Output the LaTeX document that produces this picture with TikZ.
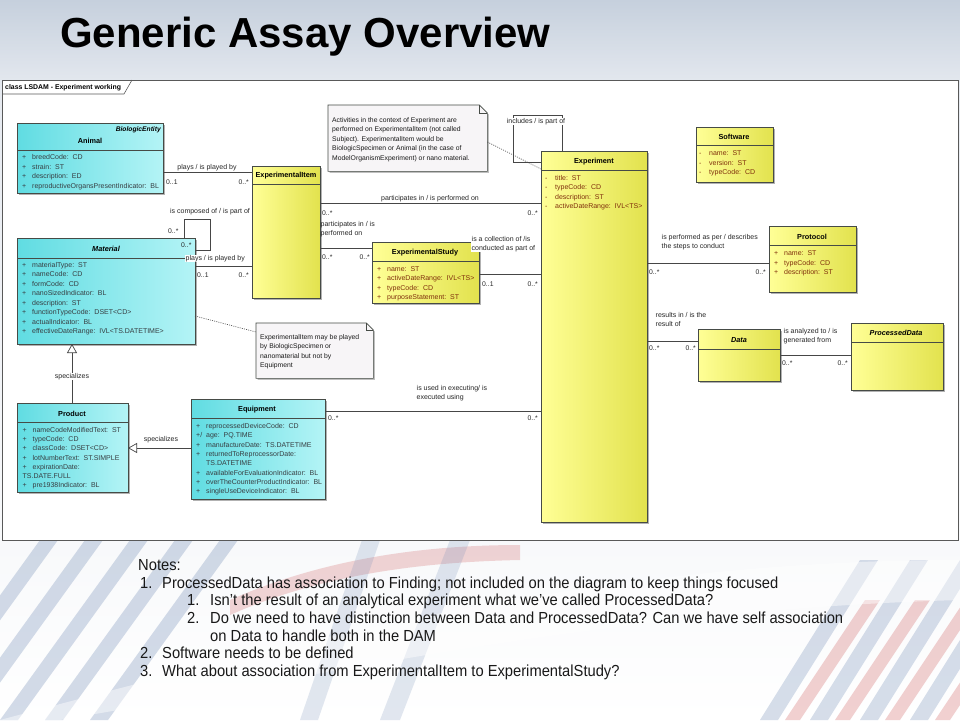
\documentclass[tikz,border=0pt]{standalone}
\usepackage{fontspec}
\setmainfont{Liberation Sans}
\newfontfamily\notefont[FakeStretch=0.92]{Liberation Sans}
\usetikzlibrary{arrows.meta,shadows,calc}
\definecolor{cyanL}{RGB}{96,220,226}
\definecolor{cyanR}{RGB}{180,244,246}
\definecolor{yelL}{RGB}{255,255,150}
\definecolor{yelR}{RGB}{226,226,78}
\definecolor{bord}{RGB}{70,75,70}
\definecolor{attrY}{RGB}{128,48,12}
\definecolor{attrC}{RGB}{55,62,66}
\definecolor{linec}{RGB}{70,70,70}
\definecolor{notefill}{RGB}{247,245,247}
\definecolor{bgtop}{RGB}{198,208,221}
\definecolor{bgmid}{RGB}{230,234,240}
\definecolor{stripeB}{RGB}{120,145,185}
\definecolor{stripeR}{RGB}{200,70,70}
\tikzset{
 cls/.style={draw=bord, line width=0.7pt, inner sep=0pt, outer sep=0pt, anchor=north west,
   drop shadow={shadow xshift=1.5pt, shadow yshift=-1.5pt, fill=black, opacity=0.3}},
 cbox/.style={cls, left color=cyanL, right color=cyanR},
 ybox/.style={cls, left color=yelL, right color=yelR},
 sepl/.style={draw=bord, line width=0.6pt},
 hdr/.style={font=\fontsize{7.3}{8}\selectfont\bfseries, inner sep=0pt, text=black},
 hdri/.style={hdr, font=\fontsize{7.3}{8}\selectfont\bfseries\itshape},
 attrc/.style={font=\fontsize{7.0}{8}\selectfont, text=attrC, inner sep=0pt, anchor=base west},
 attry/.style={attrc, text=attrY},
 assoc/.style={draw=linec, line width=0.7pt},
 lbl/.style={font=\fontsize{7.0}{9.3}\selectfont, inner sep=0.5pt, text=black!85, align=left},
 mult/.style={font=\fontsize{6.8}{8}\selectfont, inner sep=0pt, text=black!85},
 dotl/.style={draw=linec, line width=0.6pt, dash pattern=on 1pt off 1.2pt},
 gen/.style={assoc, -{Triangle[open, length=9pt, width=10pt]}},
 notetxt/.style={font=\fontsize{6.8}{9.4}\selectfont, inner sep=0pt, anchor=base west, text=black!90},
 ntxt/.style={font=\notefont\fontsize{16}{18}\selectfont, inner sep=0pt, anchor=base west, text=black!90},
}
\begin{document}
\begin{tikzpicture}[x=1pt,y=-1pt]
\useasboundingbox (0,0) rectangle (960,720);
% background
\shade[top color=bgtop, bottom color=bgmid] (0,0) rectangle (960,90);
\shade[top color=bgmid, bottom color=white] (0,90) rectangle (960,720);
\foreach \x in {-90,-45,0,45,90} {
  \fill[stripeB, opacity=0.32] (\x,720) -- (\x+18,720) -- (\x+148,540) -- (\x+130,540) -- cycle;
}
\foreach \x in {760,810,860,910} {
  \fill[stripeB, opacity=0.3] (\x,720) -- (\x+18,720) -- (\x+118,560) -- (\x+100,560) -- cycle;
  \fill[stripeR, opacity=0.25] (\x+25,720) -- (\x+40,720) -- (\x+120,600) -- (\x+105,600) -- cycle;
}
\fill[stripeR, opacity=0.22] (230,600) .. controls (320,560) and (420,545) .. (520,545) -- (520,560) .. controls (420,562) and (320,575) .. (230,615) -- cycle;
\fill[stripeB, opacity=0.22] (380,720) -- (400,720) -- (470,540) -- (450,540) -- cycle;
\fill[stripeB, opacity=0.22] (300,720) -- (318,720) -- (380,540) -- (362,540) -- cycle;
\fill[white, opacity=0.45] (0,720) .. controls (300,640) and (600,560) .. (960,560) -- (960,600) .. controls (600,610) and (300,680) .. (60,720) -- cycle;

% title
\node[font=\fontsize{42}{50}\selectfont\bfseries, anchor=base west, inner sep=0pt] (title) at (60,47) {Generic Assay Overview};

% frame
\node[draw=black!65, line width=0.9pt, fill=white, minimum width=956pt, minimum height=460pt, anchor=north west, inner sep=0pt] (frame) at (2,80) {};
\draw[draw=black!65, line width=0.6pt] (frame.west |- 0,94) -- (124,94) -- (132,80);
\node[font=\fontsize{6.9}{7}\selectfont\bfseries, anchor=west, inner sep=0pt] (tablbl) at (5,87.5) {class LSDAM - Experiment working};

% ---------- notes (folded) ----------
\node[minimum width=159pt, minimum height=66pt, anchor=north west, inner sep=0pt] (n1) at (328,105) {};
\fill[black, opacity=0.25] ([shift={(1.5pt,-1.5pt)}]n1.north west) -- ([shift={(-6.5pt,-1.5pt)}]n1.north east) -- ([shift={(1.5pt,-9.5pt)}]n1.north east) -- ([shift={(1.5pt,-1.5pt)}]n1.south east) -- ([shift={(1.5pt,-1.5pt)}]n1.south west) -- cycle;
\filldraw[fill=notefill, draw=bord, line width=0.6pt] (n1.north west) -- ([xshift=-8pt]n1.north east) -- ([yshift=-8pt]n1.north east) -- (n1.south east) -- (n1.south west) -- cycle;
\draw[draw=bord, line width=0.6pt] ([xshift=-8pt]n1.north east) -- ([shift={(-8pt,-8pt)}]n1.north east) -- ([yshift=-8pt]n1.north east);
\foreach [count=\i] \t in {Activities in the context of Experiment are, performed on ExperimentalItem (not called, {Subject).  ExperimentalItem would be}, BiologicSpecimen or Animal (in the case of, ModelOrganismExperiment) or nano material.}
  \node[notetxt] (n1t\i) at (332, {122.4+9.4*(\i-1)}) {\t};

\node[minimum width=117pt, minimum height=55pt, anchor=north west, inner sep=0pt] (n2) at (256,323) {};
\fill[black, opacity=0.25] ([shift={(1.5pt,-1.5pt)}]n2.north west) -- ([shift={(-5.5pt,-1.5pt)}]n2.north east) -- ([shift={(1.5pt,-8.5pt)}]n2.north east) -- ([shift={(1.5pt,-1.5pt)}]n2.south east) -- ([shift={(1.5pt,-1.5pt)}]n2.south west) -- cycle;
\filldraw[fill=notefill, draw=bord, line width=0.6pt] (n2.north west) -- ([xshift=-7pt]n2.north east) -- ([yshift=-7pt]n2.north east) -- (n2.south east) -- (n2.south west) -- cycle;
\draw[draw=bord, line width=0.6pt] ([xshift=-7pt]n2.north east) -- ([shift={(-7pt,-7pt)}]n2.north east) -- ([yshift=-7pt]n2.north east);
\foreach [count=\i] \t in {ExperimentalItem may be played, by BiologicSpecimen or, nanomaterial but not by, Equipment}
  \node[notetxt] (n2t\i) at (260, {339.4+9.5*(\i-1)}) {\t};

% ---------- classes ----------
% Animal
\node[cbox, minimum width=146pt, minimum height=70pt] (animal) at (17,123) {};
\draw[sepl] (animal.west |- 0,150) -- (animal.east |- 0,150);
\node[hdri, font=\fontsize{6.7}{8}\selectfont\bfseries\itshape, anchor=east] (animalst) at (161,130) {BiologicEntity};
\node[hdr] (animalh) at (90,141) {Animal};
\foreach [count=\i] \m/\t in {+/breedCode:~~CD, +/strain:~~ST, +/description:~~ED, +/reproductiveOrgansPresentIndicator:~~BL}
  \node[attrc] (animala\i) at (22, {159.5+9.5*(\i-1)}) {\makebox[10pt][l]{\m}\t};

% Material
\node[cbox, minimum width=178pt, minimum height=106pt] (material) at (17,238) {};
\draw[sepl] (material.west |- 0,258) -- (material.east |- 0,258);
\node[hdri] (materialh) at (106,249) {Material};
\foreach [count=\i] \m/\t in {+/materialType:~~ST, +/nameCode:~~CD, +/formCode:~~CD, +/nanoSizedIndicator:~~BL, +/description:~~ST, +/functionTypeCode:~~DSET<CD>, +/actualIndicator:~~BL, +/effectiveDateRange:~~IVL<TS.DATETIME>}
  \node[attrc] (materiala\i) at (22, {267.5+9.43*(\i-1)}) {\makebox[10pt][l]{\m}\t};

% ExperimentalItem
\node[ybox, minimum width=68pt, minimum height=132pt] (item) at (252,166) {};
\draw[sepl] (item.west |- 0,184) -- (item.east |- 0,184);
\node[hdr] (itemh) at (286,176) {ExperimentalItem};

% ExperimentalStudy
\node[ybox, minimum width=107pt, minimum height=61pt] (study) at (372,242) {};
\draw[sepl] (study.west |- 0,261) -- (study.east |- 0,261);
\node[hdr] (studyh) at (425,253) {ExperimentalStudy};
\foreach [count=\i] \m/\t in {+/name:~~ST, +/activeDateRange:~~IVL<TS>, +/typeCode:~~CD, +/purposeStatement:~~ST}
  \node[attry] (studya\i) at (377, {271.5+9.35*(\i-1)}) {\makebox[10pt][l]{\m}\t};

% Experiment
\node[ybox, minimum width=106pt, minimum height=371pt] (exp) at (541,151) {};
\draw[sepl] (exp.west |- 0,170) -- (exp.east |- 0,170);
\node[hdr] (exph) at (594,162) {Experiment};
\foreach [count=\i] \m/\t in {-/title:~~ST, -/typeCode:~~CD, -/description:~~ST, -/activeDateRange:~~IVL<TS>}
  \node[attry] (expa\i) at (545, {180.5+9.35*(\i-1)}) {\makebox[10pt][l]{\m}\t};

% Software
\node[ybox, minimum width=77pt, minimum height=55pt] (software) at (696,127) {};
\draw[sepl] (software.west |- 0,145) -- (software.east |- 0,145);
\node[hdr] (softwareh) at (734,137) {Software};
\foreach [count=\i] \m/\t in {-/name:~~ST, -/version:~~ST, -/typeCode:~~CD}
  \node[attry] (softwarea\i) at (699, {155.5+9.5*(\i-1)}) {\makebox[10pt][l]{\m}\t};

% Protocol
\node[ybox, minimum width=87pt, minimum height=66pt] (protocol) at (769,226) {};
\draw[sepl] (protocol.west |- 0,245) -- (protocol.east |- 0,245);
\node[hdr] (protocolh) at (812,237) {Protocol};
\foreach [count=\i] \m/\t in {+/name:~~ST, +/typeCode:~~CD, +/description:~~ST}
  \node[attry] (protocola\i) at (774, {255.5+9.5*(\i-1)}) {\makebox[10pt][l]{\m}\t};

% Data
\node[ybox, minimum width=82pt, minimum height=52pt] (data) at (698,329) {};
\draw[sepl] (data.west |- 0,349) -- (data.east |- 0,349);
\node[hdri] (datah) at (739,340) {Data};

% ProcessedData
\node[ybox, minimum width=92pt, minimum height=67pt] (pdata) at (851,323) {};
\draw[sepl] (pdata.west |- 0,342) -- (pdata.east |- 0,342);
\node[hdri] (pdatah) at (896,333) {ProcessedData};

% Product
\node[cbox, minimum width=111pt, minimum height=89pt] (product) at (17,403) {};
\draw[sepl] (product.west |- 0,422) -- (product.east |- 0,422);
\node[hdr] (producth) at (72,414) {Product};
\foreach [count=\i] \m/\t in {+/nameCodeModifiedText:~~ST, +/typeCode:~~CD, +/classCode:~~DSET<CD>, +/lotNumberText:~~ST.SIMPLE, +/expirationDate:, TS.DATE.FULL/, +/pre1938Indicator:~~BL}
  \node[attrc] (producta\i) at (22.5, {432.5+9.2*(\i-1)}) {\makebox[10pt][l]{\m}\t};

% Equipment
\node[cbox, minimum width=134pt, minimum height=100pt] (equip) at (191,399) {};
\draw[sepl] (equip.west |- 0,418) -- (equip.east |- 0,418);
\node[hdr] (equiph) at (257,410) {Equipment};
\foreach [count=\i] \m/\t in {+/reprocessedDeviceCode:~~CD, {+/}/age:~~PQ.TIME, +/manufactureDate:~~TS.DATETIME, +/returnedToReprocessorDate:, /TS.DATETIME, +/availableForEvaluationIndicator:~~BL, +/overTheCounterProductIndicator:~~BL, +/singleUseDeviceIndicator:~~BL}
  \node[attrc] (equipa\i) at (196, {428.5+9.3*(\i-1)}) {\makebox[10pt][l]{\m}\t};

% ---------- connectors ----------
% Animal - ExperimentalItem
\draw[assoc] (animal.east |- 0,172) -- (item.west |- 0,172);
\node[lbl, anchor=base] (l1) at (207,169.5) {plays / is played by};
\node[mult, anchor=base west] (m1a) at (166,184) {0..1};
\node[mult, anchor=base east] (m1b) at (249,184) {0..*};

% Material - ExperimentalItem
\draw[assoc] (material.east |- 0,266) -- (item.west |- 0,266);
\node[lbl, fill=white, anchor=base west] (l2) at (185,260.5) {plays / is played by};
\node[mult, anchor=base west] (m2a) at (197,277.5) {0..1};
\node[mult, anchor=base east] (m2b) at (249,277) {0..*};

% Material self association
\coordinate (ms1) at (184,219);
\coordinate (ms2) at (210,219);
\coordinate (ms3) at (210,250);
\draw[assoc] (ms1 |- material.north) -- (ms1) -- (ms2) -- (ms3) -- (material.east |- ms3);
\node[lbl, fill=white, anchor=base] (l3) at (210,213.5) {is composed of / is part of};
\node[mult, anchor=base west] (m3a) at (168,233) {0..*};
\node[mult, anchor=base west] (m3b) at (181,247) {0..*};

% ExperimentalItem - Experiment
\draw[assoc] (item.east |- 0,203) -- (exp.west |- 0,203);
\node[lbl, anchor=base] (l4) at (430,200.5) {participates in / is performed on};
\node[mult, anchor=base west] (m4a) at (322,215) {0..*};
\node[mult, anchor=base east] (m4b) at (538,215) {0..*};

% ExperimentalItem - ExperimentalStudy
\draw[assoc] (item.east |- 0,248) -- (study.west |- 0,248);
\node[lbl, anchor=base west] (l5) at (320,235.5) {participates in / is\\performed on};
\node[mult, anchor=base west] (m5a) at (322,259.5) {0..*};
\node[mult, anchor=base east] (m5b) at (370,259.5) {0..*};

% ExperimentalStudy - Experiment
\draw[assoc] (study.east |- 0,274) -- (exp.west |- 0,274);
\node[lbl, fill=white, anchor=base west] (l6) at (471,250.5) {is a collection of /is\\conducted as part of};
\node[mult, anchor=base west] (m6a) at (482,286.5) {0..1};
\node[mult, anchor=base east] (m6b) at (538,286) {0..*};

% Experiment self association
\coordinate (es1) at (562,115);
\coordinate (es2) at (513,115);
\coordinate (es3) at (513,162);
\draw[assoc] (es1 |- exp.north) -- (es1) -- (es2) -- (es3) -- (exp.west |- es3);
\node[lbl, fill=white, anchor=base] (l7) at (536,123.5) {includes / is part of};

% note 1 link
\draw[dotl] (n1.east |- 0,142) -- (exp.west |- 0,169);

% Experiment - Protocol
\draw[assoc] (exp.east |- 0,263) -- (protocol.west |- 0,263);
\node[lbl, anchor=base west] (l8) at (661,248.5) {is performed as per / describes\\the steps to conduct};
\node[mult, anchor=base west] (m8a) at (649,274.5) {0..*};
\node[mult, anchor=base east] (m8b) at (766,274.5) {0..*};

% Experiment - Data
\draw[assoc] (exp.east |- 0,341) -- (data.west |- 0,341);
\node[lbl, anchor=base west] (l9) at (655,326.5) {results in / is the\\result of};
\node[mult, anchor=base west] (m9a) at (649,350.5) {0..*};
\node[mult, anchor=base east] (m9b) at (696,350.5) {0..*};

% Data - ProcessedData
\draw[assoc] (data.east |- 0,355) -- (pdata.west |- 0,355);
\node[lbl, anchor=base west] (l10) at (783,342.5) {is analyzed to / is\\generated from};
\node[mult, anchor=base west] (m10a) at (782,365.5) {0..*};
\node[mult, anchor=base east] (m10b) at (848,365.5) {0..*};

% note 2 link
\draw[dotl] (material.east |- 0,316) -- (n2.west |- 0,332);

% Equipment - Experiment
\draw[assoc] (equip.east |- 0,411) -- (exp.west |- 0,411);
\node[lbl, anchor=base west] (l11) at (416,399.5) {is used in executing/ is\\executed using};
\node[mult, anchor=base west] (m11a) at (328,420.5) {0..*};
\node[mult, anchor=base east] (m11b) at (538,420.5) {0..*};

% generalizations
\draw[gen] (equip.west |- 0,448) -- (product.east |- 0,448);
\node[lbl, anchor=base] (l12) at (161,441.5) {specializes};
\draw[gen] (product.north -| 72,0) -- (material.south -| 72,0);
\node[lbl, fill=white, anchor=base] (l13) at (72,378.5) {specializes};

% ---------- notes text ----------
\node[ntxt] (notes0) at (138,570) {Notes:};
\node[ntxt] (nn1) at (140,588) {1.};
\node[ntxt] (nt1) at (162,588) {ProcessedData has association to Finding; not included on the diagram to keep things focused};
\node[ntxt] (nn11) at (187,605) {1.};
\node[ntxt] (nt11) at (210,605) {Isn’t the result of an analytical experiment what we’ve called ProcessedData?};
\node[ntxt] (nn12) at (187,623) {2.};
\node[ntxt] (nt12) at (210,623) {Do we need to have distinction  between Data and ProcessedData? Can we have self association};
\node[ntxt] (nt12b) at (210,641) {on Data to handle  both in the DAM};
\node[ntxt] (nn2) at (140,658) {2.};
\node[ntxt] (nt2) at (162,658) {Software needs to be defined};
\node[ntxt] (nn3) at (140,676) {3.};
\node[ntxt] (nt3) at (162,676) {What about association  from ExperimentalItem to ExperimentalStudy?};
\end{tikzpicture}
\end{document}
